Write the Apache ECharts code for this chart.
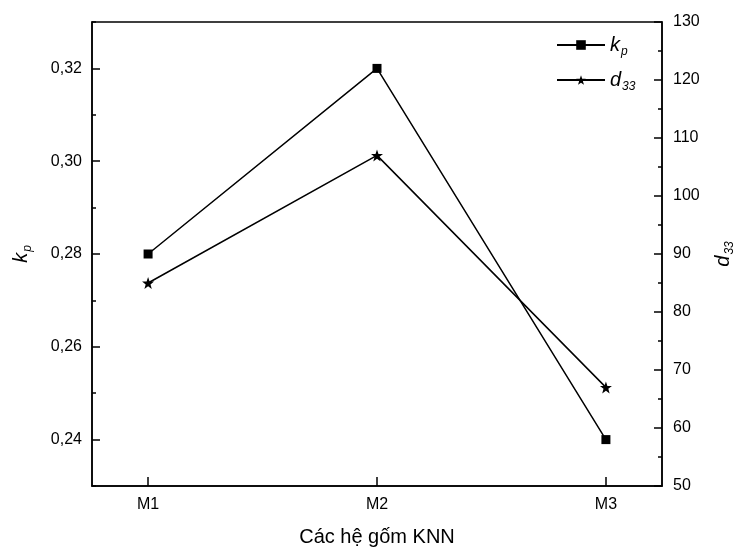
<!DOCTYPE html>
<html>
<head>
<meta charset="utf-8">
<script src="https://cdn.jsdelivr.net/npm/echarts@6/dist/echarts.min.js"></script>
<style>
  html, body { margin: 0; padding: 0; background: #fff; }
  #chart { width: 737px; height: 547px; }
</style>
</head>
<body>
<div id="chart"></div>
<script>
// dữ liệu
const categories = ['M1', 'M2', 'M3'];
const kpValues = [0.28, 0.32, 0.24];
const d33Values = [85, 107, 67];
const kpTicks = [0.24, 0.26, 0.28, 0.30, 0.32];
const catPositions = [1, 2, 3];

const FONT = '"Liberation Sans", Arial, sans-serif';
const STAR = 'path://M0,-10 L2.35,-3.24 L9.51,-3.09 L3.8,1.24 L5.88,8.09 L0,4 L-5.88,8.09 L-3.8,1.24 L-9.51,-3.09 L-2.35,-3.24 Z';

const richName = {
  i: { fontSize: 20, fontStyle: 'italic', fontFamily: FONT, color: '#000' },
  s: { fontSize: 12, fontStyle: 'italic', fontFamily: FONT, color: '#000', padding: [14, 0, 0, 1] }
};

const chart = echarts.init(document.getElementById('chart'));

chart.setOption({
  animation: false,
  textStyle: { fontFamily: FONT },
  grid: {
    left: 92, right: 75, top: 22, bottom: 61,
    containLabel: false, outerBoundsMode: 'none',
    show: true, borderColor: '#000', borderWidth: 1.5
  },
  legend: {
    orient: 'vertical',
    left: 551, top: 30,
    itemWidth: 48, itemHeight: 12, itemGap: 12,
    data: ['kp', 'd33'],
    formatter: n => n === 'kp' ? '{i|k}{s|p}' : '{i|d}{s|33}',
    textStyle: { rich: richName, padding: [0, 0, 0, 0] }
  },
  xAxis: {
    type: 'value',
    min: 0.755, max: 3.245,
    name: 'Các hệ gốm KNN',
    nameLocation: 'middle', nameGap: 41,
    nameTextStyle: { fontSize: 20, color: '#000', fontFamily: FONT },
    axisLine: { lineStyle: { color: '#000', width: 1.5 } },
    axisTick: { inside: true, length: 9, customValues: catPositions, lineStyle: { color: '#000', width: 1.5 } },
    axisLabel: {
      customValues: catPositions, margin: 11, fontSize: 16, color: '#000',
      formatter: v => categories[Math.round(v) - 1]
    },
    splitLine: { show: false }
  },
  yAxis: [
    {
      type: 'value', position: 'left',
      min: 0.23, max: 0.33,
      name: '{i|k}{s|p}',
      nameLocation: 'middle', nameGap: 58, nameRotate: 90,
      nameTextStyle: { rich: richName },
      axisLine: { show: true, lineStyle: { color: '#000', width: 1.5 } },
      axisTick: { inside: true, length: 8, customValues: kpTicks, lineStyle: { color: '#000', width: 1.5 } },
      axisLabel: {
        customValues: kpTicks, margin: 10, fontSize: 16, color: '#000',
        formatter: v => v.toFixed(2).replace('.', ',')
      },
      splitLine: { show: false }
    },
    {
      type: 'value', position: 'right',
      min: 50, max: 130, interval: 10,
      name: '{i|d}{s|33}',
      nameLocation: 'middle', nameGap: 48, nameRotate: 90,
      nameTextStyle: { rich: richName },
      axisLine: { show: true, lineStyle: { color: '#000', width: 1.5 } },
      axisTick: { inside: true, length: 8, lineStyle: { color: '#000', width: 1.5 } },
      minorTick: { show: true, splitNumber: 2, length: 4, lineStyle: { color: '#000', width: 1.5 } },
      axisLabel: { margin: 11, fontSize: 16, color: '#000' },
      splitLine: { show: false }
    },
    {
      // trục phụ chỉ để vẽ vạch nhỏ bên trái
      type: 'value', position: 'left',
      min: 0.23, max: 0.33, interval: 0.02,
      axisLine: { show: false },
      axisTick: { inside: true, length: 4, lineStyle: { color: '#000', width: 1.5 } },
      axisLabel: { show: false },
      splitLine: { show: false }
    }
  ],
  series: [
    {
      name: 'kp', type: 'line', yAxisIndex: 0,
      data: catPositions.map((x, i) => [x, kpValues[i]]),
      symbol: 'rect', symbolSize: 9,
      lineStyle: { color: '#000', width: 1.5 },
      itemStyle: { color: '#000' }
    },
    {
      name: 'd33', type: 'line', yAxisIndex: 1,
      data: catPositions.map((x, i) => [x, d33Values[i]]),
      symbol: STAR, symbolSize: 12,
      lineStyle: { color: '#000', width: 1.5 },
      itemStyle: { color: '#000' }
    }
  ]
});
</script>
</body>
</html>
